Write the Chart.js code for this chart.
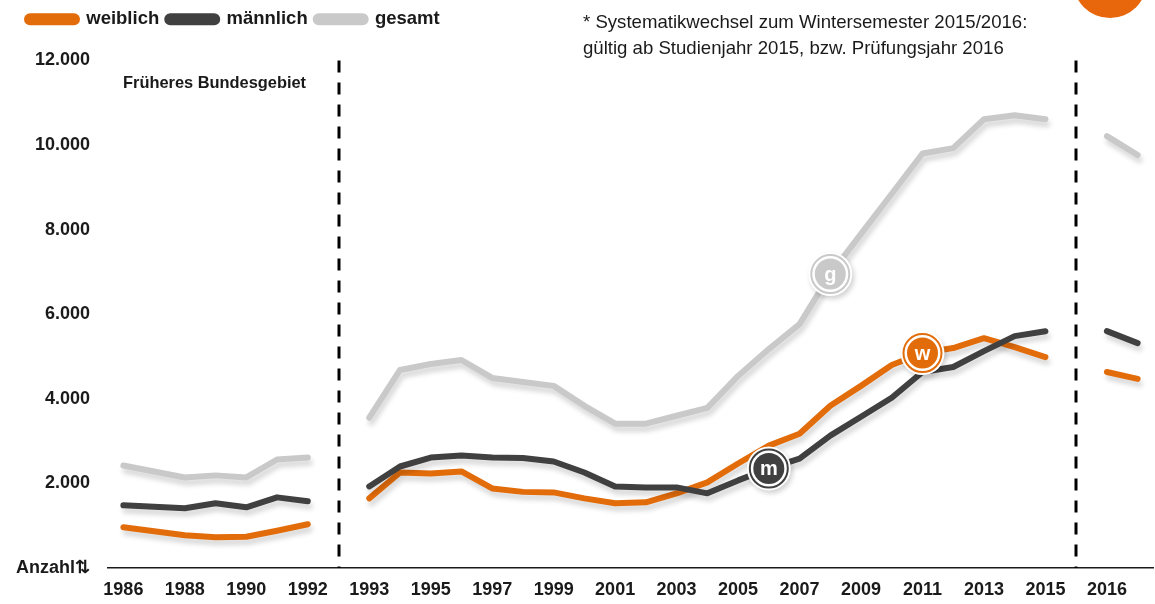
<!DOCTYPE html>
<html>
<head>
<meta charset="utf-8">
<script src="https://cdn.jsdelivr.net/npm/chart.js@4.4.1/dist/chart.umd.min.js"></script>
<style>
  html, body { margin: 0; padding: 0; background: #ffffff; }
  #wrap { position: relative; width: 1155px; height: 604px; overflow: hidden; }
  canvas { position: absolute; left: 0; top: 0; }
  .note { position: absolute; left: 583px; top: 9px; font-family: 'Liberation Sans', Arial, sans-serif; font-size: 18.6px; line-height: 26px; color: #1a1a1a; white-space: nowrap; }
  .region { position: absolute; left: 123px; top: 73px; font-family: 'Liberation Sans', Arial, sans-serif; font-weight: bold; font-size: 16.4px; color: #1a1a1a; white-space: nowrap; }
</style>
</head>
<body>
<div id="wrap">
  <canvas id="c" width="1155" height="604"></canvas>
  <div class="note">* Systematikwechsel zum Wintersemester 2015/2016:<br>gültig ab Studienjahr 2015, bzw. Prüfungsjahr 2016</div>
  <div class="region">Früheres Bundesgebiet</div>
</div>
<script>
// ---- data ----
const categories = ['1986','1987','1988','1989','1990','1991','1992','',
  '1993','1994','1995','1996','1997','1998','1999','2000','2001','2002','2003','2004',
  '2005','2006','2007','2008','2009','2010','2011','2012','2013','2014','2015','',
  '2016','2017'];
const shownTickLabels = ['1986','1988','1990','1992','1993','1995','1997','1999','2001',
  '2003','2005','2007','2009','2011','2013','2015','2016'];
const weiblich = [965, 870, 776, 729, 740, 880, 1035, null,
  1647, 2259, 2235, 2282, 1882, 1800, 1788, 1647, 1529, 1553, 1765, 2024,
  2471, 2894, 3176, 3835, 4306, 4800, 5082, 5200, 5435, 5224, 4988, null,
  4635, 4471];
const maennlich = [1482, 1450, 1412, 1529, 1435, 1670, 1576, null,
  1929, 2400, 2612, 2659, 2612, 2600, 2518, 2259, 1929, 1906, 1906, 1765,
  2071, 2353, 2588, 3129, 3576, 4024, 4635, 4753, 5129, 5482, 5600, null,
  5600, 5318];
const gesamt = [2424, 2282, 2141, 2190, 2141, 2565, 2612, null,
  3553, 4682, 4824, 4918, 4494, 4400, 4306, 3835, 3412, 3412, 3600, 3788,
  4541, 5176, 5765, 6950, 7900, 8850, 9800, 9929, 10612, 10706, 10612, null,
  10212, 9765];
const yTickValues = [0, 2000, 4000, 6000, 8000, 10000, 12000];
const zeroLabel = 'Anzahl⇅';
const separatorCategories = [7, 31];           // gap slots with dashed separators
const markerLabels = [                          // series marker letters
  { series: 0, category: '2011', letter: 'w' },
  { series: 1, category: '2006', letter: 'm' },
  { series: 2, category: '2008', letter: 'g' }
];

const ORANGE = '#E36C0A', DARK = '#404040', GRAY = '#C9C9C9';
const FONT = "'Liberation Sans', Arial, sans-serif";

const shadowPlugin = {
  id: 'lineShadow',
  beforeDatasetDraw(chart) {
    const ctx = chart.ctx;
    ctx.save();
    ctx.shadowColor = 'rgba(0,0,0,0.16)';
    ctx.shadowBlur = 5;
    ctx.shadowOffsetX = 2;
    ctx.shadowOffsetY = 5;
  },
  afterDatasetDraw(chart) { chart.ctx.restore(); }
};

const legendSpacePlugin = {
  id: 'legendSpace',
  beforeInit(chart) {
    const lg = chart.legend;
    if (!lg) return;
    const fit = lg.fit;
    lg.fit = function () { fit.call(this); this.height += 22; };
  },
  afterLayout(chart) {
    const lg = chart.legend;
    if (!lg) return;
    lg.left += 11; lg.right += 11;
  }
};

const decoPlugin = {
  id: 'deco',
  beforeDraw(chart) {
    const ctx = chart.ctx;
    ctx.save();
    ctx.fillStyle = '#E8670C';
    ctx.beginPath();
    ctx.arc(1110, -19, 37, 0, Math.PI * 2);
    ctx.fill();
    ctx.restore();
  },
  afterDatasetsDraw(chart) {
    const ctx = chart.ctx;
    const xs = chart.scales.x, area = chart.chartArea;
    ctx.save();
    ctx.strokeStyle = '#000';
    ctx.lineWidth = 3;
    ctx.setLineDash([12, 10]);
    separatorCategories.forEach(i => {
      const x = Math.round(xs.getPixelForValue(i));
      ctx.beginPath();
      ctx.moveTo(x, area.top);
      ctx.lineTo(x, area.bottom);
      ctx.stroke();
    });
    ctx.restore();

    markerLabels.forEach(m => {
      const meta = chart.getDatasetMeta(m.series);
      const idx = categories.indexOf(m.category);
      const pt = meta.data[idx];
      const col = chart.data.datasets[m.series].borderColor;
      ctx.save();
      ctx.shadowColor = 'rgba(0,0,0,0.18)';
      ctx.shadowBlur = 5;
      ctx.shadowOffsetX = 2;
      ctx.shadowOffsetY = 3;
      ctx.fillStyle = '#fff';
      ctx.beginPath(); ctx.arc(pt.x, pt.y, 22, 0, Math.PI * 2); ctx.fill();
      ctx.restore();
      ctx.save();
      ctx.strokeStyle = col; ctx.lineWidth = 2;
      ctx.beginPath(); ctx.arc(pt.x, pt.y, 19, 0, Math.PI * 2); ctx.stroke();
      ctx.fillStyle = col;
      ctx.beginPath(); ctx.arc(pt.x, pt.y, 15.5, 0, Math.PI * 2); ctx.fill();
      ctx.fillStyle = '#fff';
      ctx.font = "bold 20px 'Liberation Sans', Arial, sans-serif";
      ctx.textAlign = 'center';
      ctx.textBaseline = 'middle';
      ctx.fillText(m.letter, pt.x, pt.y + 1);
      ctx.restore();
    });
  }
};

const mkDs = (label, data, color, order) => ({
  label, data, borderColor: color, backgroundColor: color,
  borderWidth: 6, borderCapStyle: 'round', borderJoinStyle: 'round',
  pointRadius: 0, pointHoverRadius: 0, tension: 0, spanGaps: false, order, fill: false
});

new Chart(document.getElementById('c'), {
  type: 'line',
  data: {
    labels: categories,
    datasets: [
      mkDs('weiblich', weiblich, ORANGE, 1),
      mkDs('männlich', maennlich, DARK, 0),
      mkDs('gesamt', gesamt, GRAY, 2)
    ]
  },
  options: {
    responsive: false,
    animation: false,
    events: [],
    layout: { padding: { left: 8, right: 2, top: 2, bottom: 3 } },
    plugins: {
      tooltip: { enabled: false },
      legend: {
        position: 'top', align: 'start',
        labels: {
          boxWidth: 50, boxHeight: 6, useBorderRadius: true, borderRadius: 3,
          padding: 8, color: '#1a1a1a',
          font: { family: FONT, weight: 'bold', size: 18.5 },
          sort: (a, b) => a.datasetIndex - b.datasetIndex
        }
      }
    },
    scales: {
      x: {
        offset: true,
        afterFit(s) { s.height = 33; },
        grid: { display: false, drawTicks: false },
        border: { display: true, color: '#1a1a1a', width: 1.5 },
        ticks: {
          autoSkip: false, maxRotation: 0, padding: 11, color: '#1a1a1a',
          font: { family: FONT, weight: 'bold', size: 18 },
          callback(v) { const l = categories[v]; return shownTickLabels.includes(l) ? l : ''; }
        }
      },
      y: {
        min: 0, max: 12000,
        afterFit(s) { s.width = 100; },
        afterBuildTicks(s) { s.ticks = yTickValues.map(v => ({ value: v })); },
        grid: { display: false, drawTicks: false },
        border: { display: false },
        ticks: {
          padding: 18, color: '#1a1a1a',
          font: { family: FONT, weight: 'bold', size: 18 },
          callback(v) { return v === 0 ? zeroLabel : v.toLocaleString('de-DE'); }
        }
      }
    }
  },
  plugins: [legendSpacePlugin, shadowPlugin, decoPlugin]
});
</script>
</body>
</html>
